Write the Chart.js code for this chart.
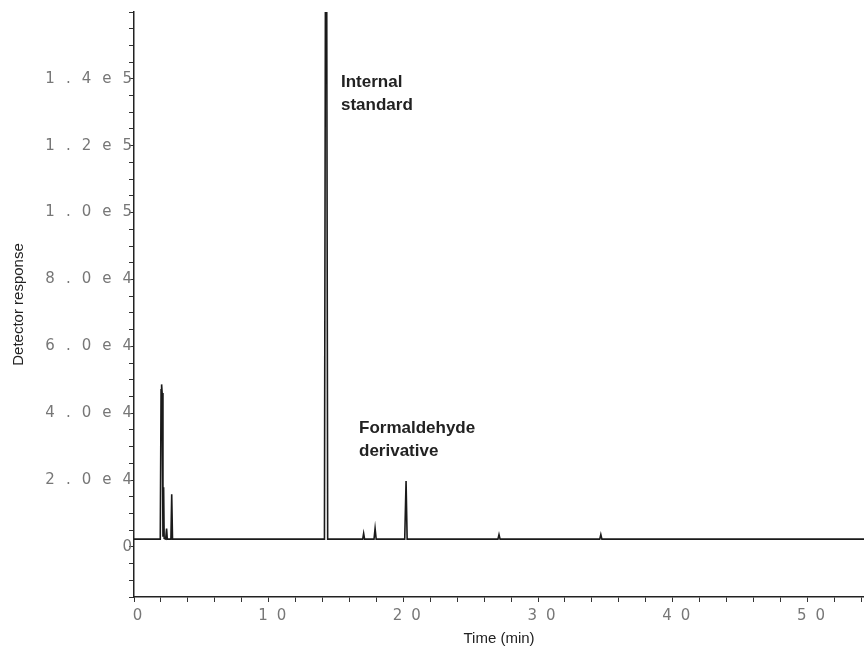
<!DOCTYPE html>
<html>
<head>
<meta charset="utf-8">
<script src="https://cdn.jsdelivr.net/npm/chart.js@4.4.0/dist/chart.umd.min.js"></script>
<style>
  html, body { margin: 0; padding: 0; background: #fff; }
  #wrap { width: 864px; height: 651px; }
</style>
</head>
<body>
<div id="wrap"><canvas id="myChart" width="864" height="651"></canvas></div>
<script>
// chromatogram trace (time in min, detector response)
const times = [0, 1.95, 2.01, 2.05, 2.09, 2.15, 2.2, 2.24, 2.35, 2.42, 2.47, 2.74, 2.8, 2.86,
  14.14, 14.22, 14.3, 14.38, 16.98, 17.05, 17.12, 17.82, 17.9, 17.98,
  20.1, 20.2, 20.28, 27.02, 27.1, 27.18, 34.58, 34.66, 34.74, 54.2];
const response = [2300, 2300, 47000, 48600, 46000, 3000, 17800, 2500, 2300, 5500, 2300, 2300, 15700, 2300,
  2300, 185000, 185000, 2300, 2300, 4000, 2300, 2300, 5500, 2300,
  2300, 19700, 2300, 2300, 3700, 2300, 2300, 3700, 2300, 2300];

const yTickValues = [0, 20000, 40000, 60000, 80000, 100000, 120000, 140000];
const yTickLabels = ["0", "2.0e4", "4.0e4", "6.0e4", "8.0e4", "1.0e5", "1.2e5", "1.4e5"];
const xTickValues = [0, 10, 20, 30, 40, 50];
const xTickLabels = ["0", "10", "20", "30", "40", "50"];

const notes = [
  { lines: ["Internal", "standard"], x: 341, y: 82 },
  { lines: ["Formaldehyde", "derivative"], x: 359, y: 428 },
];

const points = times.map((t, i) => ({ x: t, y: response[i] }));

// wide spaced tick labels like the plotter font
const spacedLabels = {
  id: "spacedLabels",
  beforeDraw(chart) {
    ["x", "y"].forEach((id) => {
      const sc = chart.scales[id];
      if (sc._wrapped) return;
      const orig = sc.drawLabels;
      sc.drawLabels = function (area) {
        const ctx = this.ctx;
        ctx.save();
        ctx.letterSpacing = id === "y" ? "11px" : "9px";
        orig.call(this, area);
        ctx.restore();
      };
      sc._wrapped = true;
    });
  },
};

const noteLabels = {
  id: "noteLabels",
  afterDraw(chart) {
    const ctx = chart.ctx;
    ctx.save();
    ctx.font = "bold 17px 'Liberation Sans', Arial, sans-serif";
    ctx.fillStyle = "#222";
    ctx.textBaseline = "middle";
    notes.forEach((n) => {
      n.lines.forEach((l, i) => ctx.fillText(l, n.x, n.y + i * 23));
    });
    ctx.restore();
  },
};

const ctx = document.getElementById("myChart").getContext("2d");
const myChart = new Chart(ctx, {
  type: "line",
  data: {
    datasets: [
      {
        data: points,
        borderColor: "#1a1a1a",
        borderWidth: 1.6,
        pointRadius: 0,
        tension: 0,
        fill: false,
      },
    ],
  },
  options: {
    responsive: false,
    animation: false,
    layout: { padding: { top: 12, right: 0, left: 0, bottom: 0 } },
    plugins: { legend: { display: false }, tooltip: { enabled: false } },
    scales: {
      x: {
        type: "linear",
        min: 0,
        max: 54.2,
        afterFit: (s) => {
          s.height = 54;
          s.paddingLeft = 0;
          s.paddingRight = 0;
        },
        afterBuildTicks: (s) => {
          const t = [];
          for (let v = 0; v <= 54; v += 2) t.push({ value: v });
          s.ticks = t;
        },
        ticks: {
          autoSkip: false,
          maxRotation: 0,
          padding: 5,
          labelOffset: 8,
          color: "#777",
          font: { family: "'DejaVu Sans'", size: 15 },
          callback: (v) => {
            const i = xTickValues.indexOf(v);
            return i >= 0 ? xTickLabels[i] : "";
          },
        },
        grid: { drawOnChartArea: false, tickLength: 5, color: "#333" },
        border: { color: "#222", width: 1.5 },
        title: {
          display: true,
          text: "Time (min)",
          color: "#222",
          font: { family: "'Liberation Sans', Arial, sans-serif", size: 15 },
          padding: { top: 0, bottom: 3 },
        },
      },
      y: {
        min: -15000,
        max: 160000,
        afterFit: (s) => { s.width = 134; },
        afterBuildTicks: (s) => {
          const t = [];
          for (let v = -15000; v <= 160000; v += 5000) t.push({ value: v });
          s.ticks = t;
        },
        ticks: {
          autoSkip: false,
          padding: -14,
          color: "#777",
          font: { family: "'DejaVu Sans'", size: 15 },
          callback: (v) => {
            const i = yTickValues.indexOf(v);
            return i >= 0 ? yTickLabels[i] : "";
          },
        },
        grid: { drawOnChartArea: false, tickLength: 5, color: "#333" },
        border: { color: "#222", width: 1.5 },
        title: {
          display: true,
          text: "Detector response",
          color: "#222",
          font: { family: "'Liberation Sans', Arial, sans-serif", size: 15 },
          padding: { top: 10, bottom: 0 },
        },
      },
    },
  },
  plugins: [spacedLabels, noteLabels],
});
</script>
</body>
</html>
